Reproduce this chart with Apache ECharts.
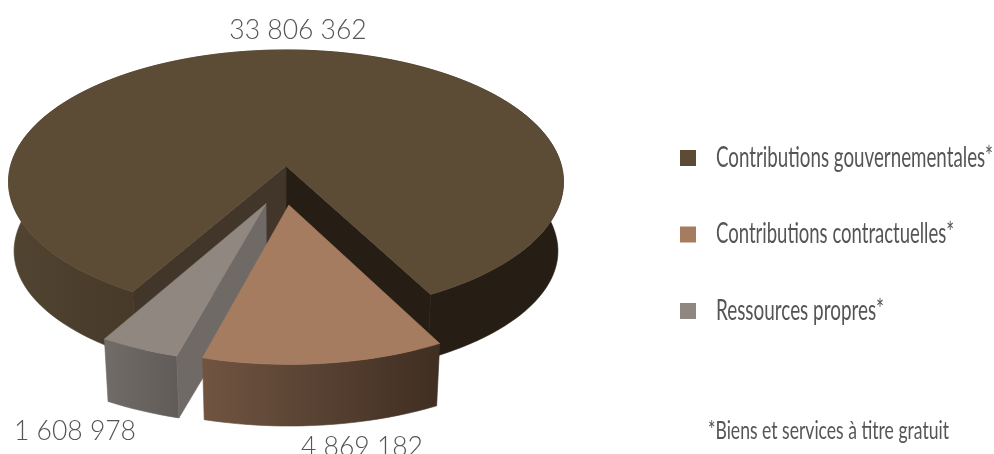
<!DOCTYPE html>
<html><head><meta charset="utf-8">
<script src="https://cdn.jsdelivr.net/npm/echarts@6/dist/echarts.min.js"></script>
<style>html,body{margin:0;padding:0;background:#fff}#c{width:994px;height:454px}</style></head>
<body><div id="c"></div>
<script>
const categories = ['Contributions gouvernementales*', 'Contributions contractuelles*', 'Ressources propres*'];
const values = [33806362, 4869182, 1608978];
const footnote = '*Biens et services à titre gratuit';
const colors = ['#5c4c36', '#a67c60', '#8f8780'];

const total = values.reduce((a, b) => a + b, 0);
const startDeg = 28;               // front-right edge of the large slice
const cx = 286, cy = 166, A = 275.5, B = 130, K = 0.12, SHRINK = 0.98;
const offsets = [[0, 0], [0.01, 0.29], [-0.07, 0.28]];
const fmt = v => String(v).replace(/\B(?=(\d{3})+$)/g, ' ');

const spans = (function () {
  const big = values[0] / total * 360, tan = values[1] / total * 360;
  return [
    [startDeg, startDeg + big],
    [startDeg - tan, startDeg],
    [startDeg - tan - values[2] / total * 360, startDeg - tan]
  ];
})();

function proj(x, y, low) {
  const w = 1 - K * y;
  const s = low ? SHRINK : 1;
  return [cx + s * A * x / w, cy + B * y / w + (low ? 70 - 6.5 * Math.max(y, 0) : 0)];
}
function rim(i, a, b, low) {
  const o = offsets[i], pts = [], n = Math.max(2, Math.ceil(Math.abs(b - a) / 2));
  for (let k = 0; k <= n; k++) {
    const t = (a + (b - a) * k / n) * Math.PI / 180;
    pts.push(proj(o[0] + Math.sin(t), o[1] + Math.cos(t), low));
  }
  return pts;
}
const poly = (points, fill) => ({ type: 'polygon', shape: { points }, style: { fill, stroke: fill, lineWidth: 0.6 } });
const grad = (x0, x1, c0, c1) => new echarts.graphic.LinearGradient(x0, 0, x1, 0, [{ offset: 0, color: c0 }, { offset: 1, color: c1 }], true);
const side = (i, a, b, fill) => poly(rim(i, a, b, false).concat(rim(i, a, b, true).reverse()), fill);
const wall = (i, a, fill) => {
  const o = offsets[i], e = rim(i, a, a, false)[0], f = rim(i, a, a, true)[0];
  return poly([proj(o[0], o[1], false), e, f, proj(o[0], o[1], true)], fill);
};
const topFace = (i, fill) => poly([proj(offsets[i][0], offsets[i][1], false)].concat(rim(i, spans[i][0], spans[i][1], false)), fill);

const painters = [
  () => [
    side(0, spans[0][0], 180, '#261e14'),
    side(0, 180, spans[0][1], grad(8, 140, '#514431', '#463928')),
    wall(0, spans[0][0], '#261e14'),
    wall(0, spans[0][1], '#42362a'),
    topFace(0, colors[0])
  ],
  () => [
    side(1, spans[1][0], spans[1][1], grad(204, 440, '#705441', '#3f2e22')),
    topFace(1, colors[1])
  ],
  () => [
    side(2, spans[2][0], spans[2][1], grad(108, 185, '#716b67', '#5f5a57')),
    wall(2, spans[2][1], '#706a66'),
    topFace(2, colors[2])
  ]
];

// the reference uses a condensed face: squeeze real text to its measured width
const measure = document.createElement('canvas').getContext('2d');
function narrow(text, x, y, size, width) {
  const font = 'Lato';
  measure.font = size + 'px ' + font;
  return {
    type: 'text', x, y, scaleX: width / measure.measureText(text).width,
    style: { text, fontFamily: font, fontSize: size, fill: '#555555', textAlign: 'left', textVerticalAlign: 'middle' }
  };
}
const legendWidths = [277, 238, 168];
const legendY = [158, 234, 311];

const chart = echarts.init(document.getElementById('c'), null, { renderer: 'canvas' });
const zs = [1, 3, 2];
const labelBase = { fontFamily: 'Lato', fontWeight: 300, fontSize: 26.5, fill: '#555555', textAlign: 'center', textVerticalAlign: 'middle' };
chart.setOption({
  animation: false,
  backgroundColor: '#ffffff',
  legend: {
    orient: 'vertical', left: 680, top: 150, padding: 0, itemWidth: 16, itemHeight: 16, itemGap: 60.5,
    icon: 'rect', data: categories, selectedMode: false, formatter: () => '',
    textStyle: { fontSize: 1 }
  },
  series: categories.map((name, i) => ({
    type: 'custom', name, coordinateSystem: 'none', z: zs[i], silent: true,
    itemStyle: { color: colors[i] },
    data: [values[i]],
    renderItem: () => ({ type: 'group', children: painters[i]() })
  })),
  graphic: [
    { type: 'text', x: 298, y: 30, style: Object.assign({}, labelBase, { text: fmt(values[0]) }) },
    { type: 'text', x: 362, y: 447, style: Object.assign({}, labelBase, { text: fmt(values[1]) }) },
    { type: 'text', x: 75, y: 431, style: Object.assign({}, labelBase, { text: fmt(values[2]) }) },
    narrow(footnote, 708, 431, 25, 241)
  ].concat(categories.map((c, i) => narrow(c, 716, legendY[i], 29, legendWidths[i])))
});
</script></body></html>
